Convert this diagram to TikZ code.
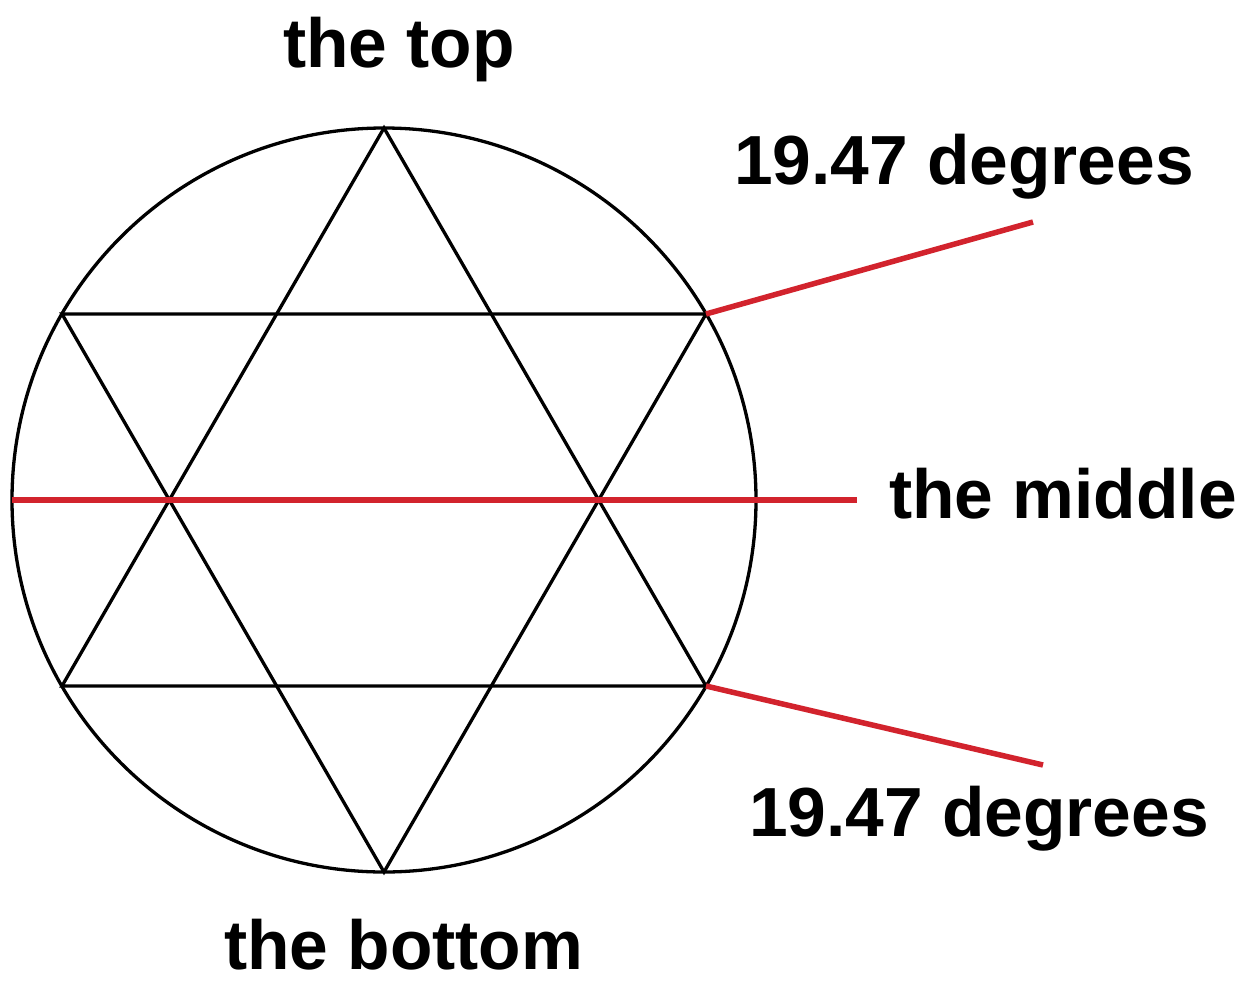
\documentclass[tikz,border=0pt]{standalone}
\usepackage{fontspec}
\setmainfont{Liberation Sans}
\definecolor{lred}{RGB}{210,35,45}
\begin{document}
\begin{tikzpicture}[x=1pt,y=-1pt,
  blk/.style={draw=black,line width=3.3pt},
  redline/.style={draw=lred,line width=5.5pt},
  lbl/.style={anchor=base west,inner sep=0pt,font=\fontsize{69.5}{80}\selectfont\bfseries}]
\useasboundingbox (0,0) rectangle (1242,985);
\coordinate (c) at (384,500);
\def\R{372}
\coordinate (T) at (384,128);
\coordinate (B) at (384,872);
\coordinate (UL) at (62,314);
\coordinate (UR) at (706,314);
\coordinate (LL) at (62,686);
\coordinate (LR) at (706,686);
\coordinate (ML) at (12,500);
\coordinate (MR) at (857,500);
\coordinate (E1) at (1033,222);
\coordinate (E2) at (1043,765);
\draw[blk] (c) circle[radius=\R];
\draw[blk] (T) -- (LL) -- (LR) -- cycle;
\draw[blk] (B) -- (UL) -- (UR) -- cycle;
\draw[redline] (ML) -- (MR);
\draw[redline] (UR) -- (E1);
\draw[redline] (LR) -- (E2);
\node[lbl] (top) at (283,67) {the top};
\node[lbl] (deg1) at (734,184) {19.47 degrees};
\node[lbl] (mid) at (889,518) {the middle};
\node[lbl] (deg2) at (749,836) {19.47 degrees};
\node[lbl] (bot) at (224,969) {the bottom};
\end{tikzpicture}
\end{document}
